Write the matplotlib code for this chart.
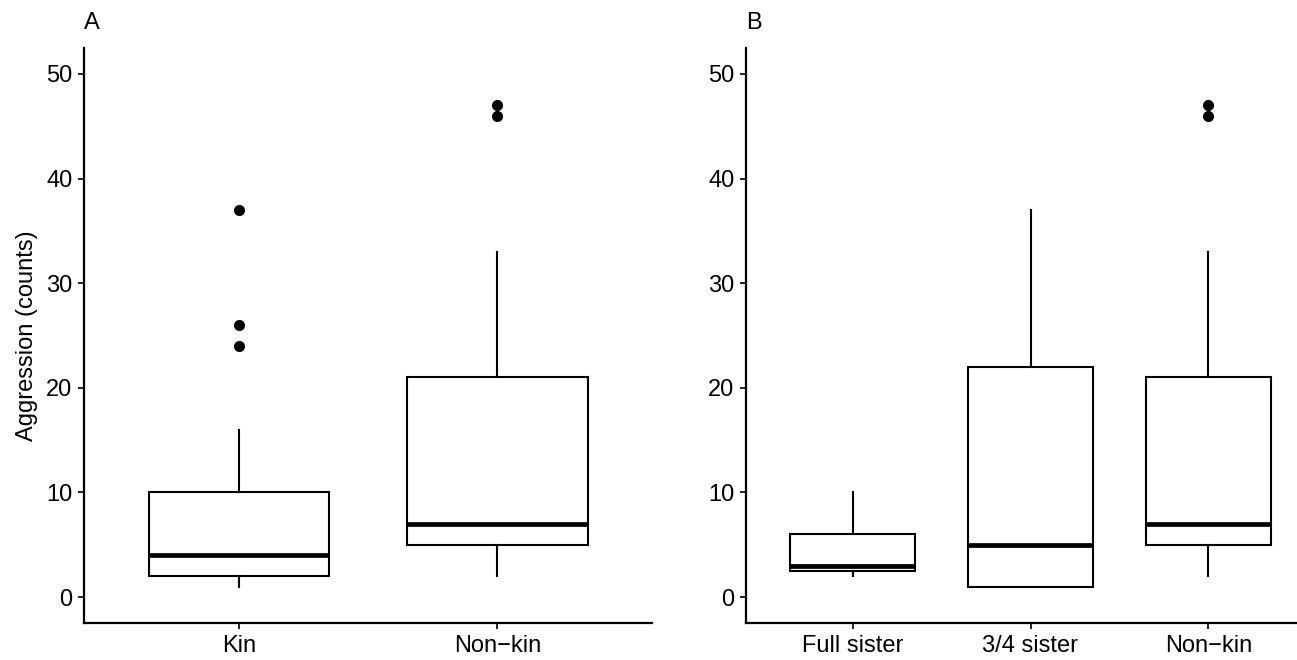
import matplotlib
matplotlib.use("Agg")
import matplotlib.pyplot as plt

plt.rcParams['font.family'] = ['Liberation Sans', 'DejaVu Sans']

# Panel A: kin vs non-kin
groups_a = ["Kin", "Non\u2212kin"]
whislo_a = [1, 2]
q1_a = [2, 5]
med_a = [4, 7]
q3_a = [10, 21]
whishi_a = [16, 33]
fliers_a = [[24, 26, 37], [46, 47]]

# Panel B: relatedness classes
groups_b = ["Full sister", "3/4 sister", "Non\u2212kin"]
whislo_b = [2, 1, 2]
q1_b = [2.5, 1, 5]
med_b = [3, 5, 7]
q3_b = [6, 22, 21]
whishi_b = [10, 37, 33]
fliers_b = [[], [], [46, 47]]

y_ticks = [0, 10, 20, 30, 40, 50]


def make_stats(labels, lo, q1, med, q3, hi, fl):
    return [dict(label=l, whislo=a, q1=b, med=c, q3=d, whishi=e, fliers=f)
            for l, a, b, c, d, e, f in zip(labels, lo, q1, med, q3, hi, fl)]


W, H = 1297, 660
fig = plt.figure(figsize=(W / 100, H / 100), dpi=100)

bottom = (H - 623.3) / H
top = (H - 47.7) / H
ax_a = fig.add_axes([84 / W, bottom, (652.5 - 84) / W, top - bottom])
ax_b = fig.add_axes([746 / W, bottom, (1315 - 746) / W, top - bottom])

fs = 17
box_lw = 1.5
for ax, stats, n, tag in [
    (ax_a, make_stats(groups_a, whislo_a, q1_a, med_a, q3_a, whishi_a, fliers_a), len(groups_a), "A"),
    (ax_b, make_stats(groups_b, whislo_b, q1_b, med_b, q3_b, whishi_b, fliers_b), len(groups_b), "B"),
]:
    ax.bxp(stats, positions=range(1, n + 1), widths=0.7, patch_artist=True,
           showcaps=False,
           boxprops=dict(facecolor="white", edgecolor="black", linewidth=box_lw),
           medianprops=dict(color="black", linewidth=3.4, solid_capstyle="butt"),
           whiskerprops=dict(color="black", linewidth=box_lw),
           flierprops=dict(marker="o", markerfacecolor="black",
                           markeredgecolor="black", markersize=7))
    ax.set_xlim(0.4, n + 0.6)
    ax.set_ylim(-2.5, 52.5)
    ax.set_yticks(y_ticks)
    ax.set_yticklabels([str(v) for v in y_ticks])
    for s in ["top", "right"]:
        ax.spines[s].set_visible(False)
    for s in ["left", "bottom"]:
        ax.spines[s].set_linewidth(1.6)
    ax.tick_params(axis="both", length=4.3, width=1.2, labelsize=fs,
                   pad=4, colors="black")
    ax.text(0.0, 1.0325, tag, transform=ax.transAxes, fontsize=fs,
            ha="left", va="baseline")

ax_a.set_ylabel("Aggression (counts)", fontsize=fs, labelpad=6)

fig.savefig("out.png", dpi=100, facecolor="white")
